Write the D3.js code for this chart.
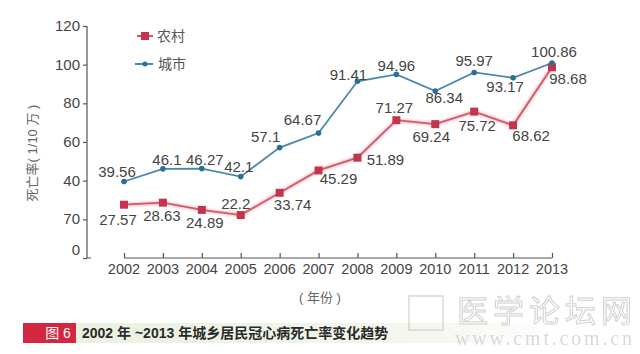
<!DOCTYPE html>
<html><head><meta charset="utf-8">
<script src="https://cdn.jsdelivr.net/npm/d3@7/dist/d3.min.js"></script>
<style>
html,body{margin:0;padding:0;background:#fff;}
svg{display:block;font-family:"Liberation Sans","Noto Sans CJK SC",sans-serif;}
</style></head>
<body><svg id="c" width="640" height="354"></svg>
<script>
const years = ["2002","2003","2004","2005","2006","2007","2008","2009","2010","2011","2012","2013"];
const rural = [27.57,28.63,24.89,22.2,33.74,45.29,51.89,71.27,69.24,75.72,68.62,98.68];
const urban = [39.56,46.1,46.27,42.1,57.1,64.67,91.41,94.96,86.34,95.97,93.17,100.86];
const yTickValues = [0,20,40,60,80,100,120];
const yTickLabels = ["0","70","40","60","80","100","120"];
const seriesNames = ["农村","城市"];

// label offsets (layout only)
const urbanOff = [[-7,-10],[4,-9],[3,-9],[-2,-10],[-14,-11],[-16,-13],[-9,-6],[0,-8],[9,7],[0,-11],[-8,9],[2,-11]];
const ruralOff = [[-6,15],[-1,13],[3,13],[-5,-11],[13,12],[20,9],[28,2],[-2,-12],[-4,13],[3,14],[18,11],[16,12]];

const svg = d3.select("#c");
const x = d3.scalePoint().domain(years).range([124,552]);
const y = d3.scaleLinear().domain([0,120]).range([258,26]);

// caption strip
const defs = svg.append("defs");
const g1 = defs.append("linearGradient").attr("id","strip");
g1.append("stop").attr("offset","0%").attr("stop-color","#e9f1df");
g1.append("stop").attr("offset","70%").attr("stop-color","#f3f7ee");
g1.append("stop").attr("offset","100%").attr("stop-color","#ffffff");
const glow = defs.append("filter").attr("id","glow").attr("x","-50%").attr("y","-50%").attr("width","200%").attr("height","200%");
glow.append("feGaussianBlur").attr("stdDeviation",1.2);

// y axis
const yAxis = d3.axisLeft(y).tickValues(yTickValues).tickSize(4)
  .tickFormat((d,i)=>"");
const ya = svg.append("g").attr("transform","translate(87,0)").call(yAxis);
ya.select(".domain").attr("stroke","#555").attr("stroke-width",1.2).attr("d","M0,26V258H4");
ya.selectAll(".tick line").attr("stroke","#555").attr("stroke-width",1.2);
svg.append("g").selectAll("text").data(yTickValues).join("text")
  .attr("x",80).attr("y",(d,i)=>y(d)+(d===0?-3:5))
  .attr("text-anchor","end").attr("font-size",15).attr("fill","#444")
  .text((d,i)=>yTickLabels[i]);

// x axis
const xAxis = d3.axisTop(x).tickSize(5).tickFormat("");
const xa = svg.append("g").attr("transform","translate(0,258)").call(xAxis);
xa.select(".domain").attr("stroke","#555").attr("stroke-width",1.2).attr("d","M124,0H552");
xa.selectAll(".tick line").attr("stroke","#555").attr("stroke-width",1.2);
svg.append("g").selectAll("text").data(years).join("text")
  .attr("x",d=>x(d)).attr("y",274).attr("text-anchor","middle")
  .attr("font-size",14.5).attr("fill","#444").text(d=>d);

// titles
svg.append("text").attr("transform","translate(37,153) rotate(-90)")
  .attr("text-anchor","middle").attr("font-size",13).attr("fill","#666")
  .text("死亡率( 1/10 万 )");
svg.append("text").attr("x",320).attr("y",302).attr("text-anchor","middle")
  .attr("font-size",13).attr("fill","#666").text("( 年份 )");

// lines
const line = d3.line().x((d,i)=>x(years[i])).y(d=>y(d));
svg.append("path").datum(rural).attr("d",line).attr("fill","none")
  .attr("stroke","#f0a0aa").attr("stroke-width",4).attr("opacity",0.6).attr("filter","url(#glow)");
svg.append("path").datum(rural).attr("d",line).attr("fill","none")
  .attr("stroke","#d25a6a").attr("stroke-width",1.8);
svg.append("path").datum(urban).attr("d",line).attr("fill","none")
  .attr("stroke","#4a88aa").attr("stroke-width",1.8);

// markers
svg.append("g").selectAll("rect").data(rural).join("rect")
  .attr("x",(d,i)=>x(years[i])-4).attr("y",d=>y(d)-4).attr("width",8).attr("height",8)
  .attr("fill","#c4344c");
svg.append("g").selectAll("circle").data(urban).join("circle")
  .attr("cx",(d,i)=>x(years[i])).attr("cy",d=>y(d)).attr("r",2.8)
  .attr("fill","#2d6f94");

// value labels
svg.append("g").selectAll("text").data(urban).join("text")
  .attr("x",(d,i)=>x(years[i])+urbanOff[i][0]).attr("y",(d,i)=>y(d)+urbanOff[i][1]+5)
  .attr("text-anchor","middle").attr("font-size",15).attr("fill","#444").text(d=>d);
svg.append("g").selectAll("text").data(rural).join("text")
  .attr("x",(d,i)=>x(years[i])+ruralOff[i][0]).attr("y",(d,i)=>y(d)+ruralOff[i][1]+5)
  .attr("text-anchor","middle").attr("font-size",15).attr("fill","#444").text(d=>d);

// legend
const lg = svg.append("g");
lg.append("line").attr("x1",137).attr("x2",153).attr("y1",36).attr("y2",36).attr("stroke","#d25a6a").attr("stroke-width",2);
lg.append("rect").attr("x",141).attr("y",32).attr("width",8).attr("height",8).attr("fill","#c4344c");
lg.append("text").attr("x",157).attr("y",41).attr("font-size",14).attr("fill","#555").text(seriesNames[0]);
lg.append("line").attr("x1",135).attr("x2",153).attr("y1",64).attr("y2",64).attr("stroke","#4a88aa").attr("stroke-width",2);
lg.append("circle").attr("cx",145).attr("cy",64).attr("r",2.5).attr("fill","#2d6f94");
lg.append("text").attr("x",158).attr("y",69).attr("font-size",14).attr("fill","#555").text(seriesNames[1]);

// caption
svg.append("rect").attr("x",76).attr("y",323).attr("width",490).attr("height",20).attr("fill","url(#strip)");
svg.append("rect").attr("x",23).attr("y",323).attr("width",53).attr("height",20).attr("fill","#d2273f");
svg.append("text").attr("x",58).attr("y",338).attr("text-anchor","middle").attr("font-size",14).attr("fill","#fff").text("图 6");
svg.append("text").attr("x",82).attr("y",338).attr("font-size",14).attr("font-weight","bold").attr("fill","#2a2a2a")
  .text("2002 年 ~2013 年城乡居民冠心病死亡率变化趋势");

// watermark
const wm = svg.append("g").attr("opacity",0.55);
wm.append("rect").attr("x",409).attr("y",296).attr("width",34).attr("height",34).attr("fill","none").attr("stroke","#bbb").attr("stroke-width",1.5);
wm.append("text").attr("x",457).attr("y",322).attr("font-size",31).attr("fill","none").attr("stroke","#aaa").attr("stroke-width",1)
  .attr("textLength",175).text("医学论坛网");
wm.append("text").attr("x",455).attr("y",345).attr("font-size",20).attr("font-family","Liberation Serif,serif").attr("fill","#bbb")
  .attr("textLength",177).text("www.cmt.com.cn");
</script></body></html>
